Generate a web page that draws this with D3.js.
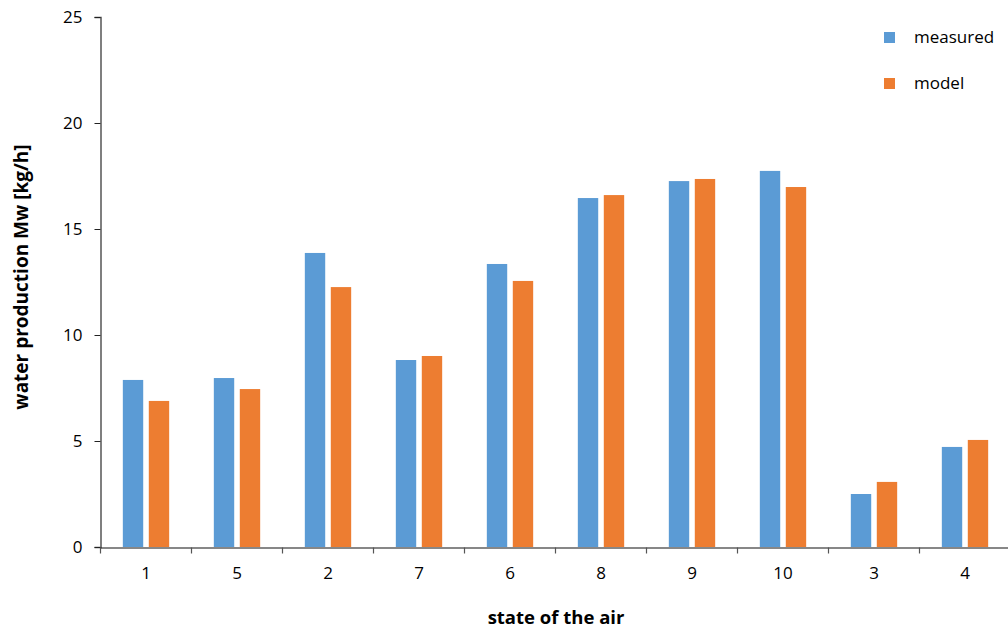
<!DOCTYPE html>
<html>
<head>
<meta charset="utf-8">
<script src="https://cdn.jsdelivr.net/npm/d3@7"></script>
<style>
  body { margin: 0; background: #fff; }
  text { font-family: "Open Sans", "DejaVu Sans", sans-serif; fill: #000; }
</style>
</head>
<body>
<div id="chart"></div>
<script>
// data
const states = ["1", "5", "2", "7", "6", "8", "9", "10", "3", "4"];
const seriesNames = ["measured", "model"];
const measured = [7.88, 7.97, 13.87, 8.82, 13.35, 16.46, 17.26, 17.74, 2.50, 4.72];
const model = [6.89, 7.45, 12.26, 9.01, 12.55, 16.60, 17.36, 16.98, 3.07, 5.05];
const yTicks = [0, 5, 10, 15, 20, 25];
const colors = ["#5b9bd5", "#ed7d31"];

const width = 1008, height = 630;
const svg = d3.select("#chart").append("svg")
  .attr("width", width)
  .attr("height", height);

const x = d3.scaleBand().domain(states).range([100.5, 1010.5]);
const xInner = d3.scaleBand().domain(seriesNames).range([0, x.bandwidth()])
  .paddingInner(0.215).paddingOuter(0.86);
const y = d3.scaleLinear().domain([0, 25]).range([547, 17]);

const rows = states.map((s, i) => ({state: s, values: [measured[i], model[i]]}));

svg.append("g")
  .selectAll("g")
  .data(rows)
  .join("g")
  .attr("transform", d => `translate(${x(d.state)},0)`)
  .selectAll("rect")
  .data(d => d.values.map((v, j) => ({name: seriesNames[j], v: v, c: colors[j]})))
  .join("rect")
  .attr("x", d => xInner(d.name))
  .attr("width", xInner.bandwidth())
  .attr("y", d => y(d.v))
  .attr("height", d => y(0) - y(d.v))
  .attr("fill", d => d.c);

// y axis
const yAxis = svg.append("g")
  .attr("transform", "translate(100.5,0)")
  .call(d3.axisLeft(y).tickValues(yTicks).tickSize(6).tickPadding(12));
yAxis.select(".domain").attr("stroke", "#555").attr("stroke-width", 1.5);
yAxis.selectAll(".tick line").attr("stroke", "#222");
yAxis.selectAll("text").attr("font-size", 17).attr("fill", "#000");

// x axis
const xAxis = svg.append("g")
  .attr("transform", `translate(0,${y(0) + 0.5})`)
  .call(d3.axisBottom(x).tickSize(0).tickPadding(19));
xAxis.select(".domain").attr("stroke", "#111").attr("stroke-width", 1.2);
xAxis.selectAll("text").attr("font-size", 17).attr("fill", "#000");
xAxis.selectAll(".sep")
  .data(states)
  .join("line")
  .attr("class", "sep")
  .attr("x1", d => x(d)).attr("x2", d => x(d))
  .attr("y1", 0).attr("y2", 6)
  .attr("stroke", "#555").attr("stroke-width", 1.2);

// axis titles
svg.append("text")
  .attr("transform", "translate(28,277) rotate(-90)")
  .attr("text-anchor", "middle")
  .attr("font-size", 19)
  .attr("font-weight", "bold")
  .text("water production Mw [kg/h]");

svg.append("text")
  .attr("x", 556).attr("y", 624)
  .attr("text-anchor", "middle")
  .attr("font-size", 18.5)
  .attr("font-weight", "bold")
  .text("state of the air");

// legend
const legend = svg.append("g").attr("transform", "translate(884,0)")
  .selectAll("g")
  .data(seriesNames)
  .join("g")
  .attr("transform", (d, i) => `translate(0,${37 + i * 46})`);
legend.append("rect")
  .attr("x", 0).attr("y", -5).attr("width", 11).attr("height", 11)
  .attr("fill", (d, i) => colors[i]);
legend.append("text")
  .attr("x", 30).attr("y", 6)
  .attr("font-size", 17)
  .text(d => d);
</script>
</body>
</html>
